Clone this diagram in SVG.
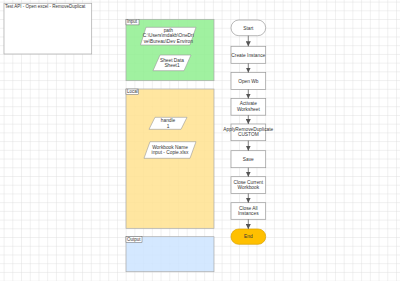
<svg xmlns="http://www.w3.org/2000/svg" width="400" height="281" viewBox="0 0 400 281">
<style>
text{font-family:"Liberation Sans",Arial,sans-serif;font-size:4.8px;fill:#333;text-anchor:middle}
.lbl{text-anchor:start;font-size:4.5px}
.node{fill:#fff;stroke:#999;stroke-width:0.7}
.para{fill:#fff;stroke:#999;stroke-width:0.6}
.lane{stroke:#aaa;stroke-width:0.7}
.tag{fill:#fff;stroke:#666;stroke-width:0.5}
.conn{stroke:#555;stroke-width:0.7;fill:none;marker-end:url(#arr)}
</style>
<defs>
<pattern id="grid" patternUnits="userSpaceOnUse" x="3.6" y="1.6" width="8.72" height="8.72">
<path d="M0 0H8.72M0 0V8.72" fill="none" stroke="#d9d9d9" stroke-width="0.8"/>
</pattern>
<marker id="arr" viewBox="0 0 10 10" refX="10" refY="5" markerWidth="5" markerHeight="5" orient="auto" markerUnits="userSpaceOnUse">
<path d="M0 0L10 5L0 10Z" fill="#555"/>
</marker>
<clipPath id="tclip"><rect x="4" y="3.3" width="87.7" height="50.7"/></clipPath>
</defs>
<rect width="400" height="281" fill="#fff"/>
<rect width="400" height="281" fill="url(#grid)"/>

<g id="title">
<rect x="4" y="3.3" width="87.7" height="50.7" fill="#fff" stroke="#aaa" stroke-width="0.7"/>
<text class="lbl" x="5" y="8.2" font-size="5.2" clip-path="url(#tclip)">Test API - Open excel - RemoveDuplicat</text>
</g>

<g id="lane-input">
<rect class="lane" x="126" y="19.3" width="88" height="61.4" fill="#8fee8f" fill-opacity="0.85"/>
<rect class="tag" x="126" y="19.3" width="13" height="5.6"/>
<text class="lbl" x="127" y="23.4">Input</text>
</g>
<g id="lane-local">
<rect class="lane" x="126" y="89" width="88" height="139.3" fill="#ffe28f" fill-opacity="0.85"/>
<rect class="tag" x="126" y="89" width="12.5" height="5.6"/>
<text class="lbl" x="127" y="93.1">Local</text>
</g>
<g id="lane-output">
<rect class="lane" x="126" y="236.7" width="88" height="35" fill="#cce4ff" fill-opacity="0.85"/>
<rect class="tag" x="126" y="236.7" width="16" height="5.6"/>
<text class="lbl" x="127" y="240.8">Output</text>
</g>

<g id="var-path">
<polygon class="para" points="146,27.3 196,27.3 190,45 140.5,45"/>
<text x="168.3" y="32.2">path</text>
<text x="168.3" y="37.4">C:\Users\mdakb\OneDri</text>
<text x="168.3" y="42.6">ve\Bureau\Dev Environ</text>
</g>
<g id="var-sheet">
<polygon class="para" points="160,55 191,55 184,70.7 153,70.7"/>
<text x="172" y="61.5">Sheet Data</text>
<text x="172" y="66.7">Sheet1</text>
</g>
<g id="var-handle">
<polygon class="para" points="155,117.3 187,117.3 181,129.3 149,129.3"/>
<text x="168" y="122.3">handle</text>
<text x="168" y="127.5">1</text>
</g>
<g id="var-workbook">
<polygon class="para" points="150,141.7 196,141.7 190,158.3 144,158.3"/>
<text x="170" y="148.5">Workbook Name</text>
<text x="170" y="153.7">input - Copie.xlsx</text>
</g>

<g id="n-start">
<rect class="node" x="231" y="20" width="34.7" height="15.7" rx="7.85"/>
<text x="248.3" y="29.5">Start</text>
</g>
<g id="n-create">
<rect class="node" x="231" y="46.3" width="34.7" height="17"/>
<text x="248.3" y="56.5">Create Instance</text>
</g>
<g id="n-open">
<rect class="node" x="231" y="72.5" width="34.7" height="17"/>
<text x="248.3" y="82.7">Open Wb</text>
</g>
<g id="n-activate">
<rect class="node" x="231" y="98.5" width="34.7" height="16.7"/>
<text x="248.3" y="105.4">Activate</text>
<text x="248.3" y="110.9">Worksheet</text>
</g>
<g id="n-apply">
<rect class="node" x="231" y="124" width="34.7" height="16.7"/>
<text x="248.3" y="130.9">ApplyRemoveDuplicate</text>
<text x="248.3" y="136.4">CUSTOM</text>
</g>
<g id="n-save">
<rect class="node" x="231" y="150.7" width="34.7" height="17"/>
<text x="248.3" y="160.9">Save</text>
</g>
<g id="n-closecur">
<rect class="node" x="231" y="176.7" width="34.7" height="16.8"/>
<text x="248.3" y="183.6">Close Current</text>
<text x="248.3" y="189.1">Workbook</text>
</g>
<g id="n-closeall">
<rect class="node" x="231" y="202.7" width="34.7" height="16.6"/>
<text x="248.3" y="209.6">Close All</text>
<text x="248.3" y="215.1">Instances</text>
</g>
<g id="n-end">
<rect x="231" y="229" width="34.7" height="15.3" rx="7.65" fill="#ffc000" stroke="#d9a200" stroke-width="0.7"/>
<text x="248.3" y="238.2">End</text>
</g>

<g id="connectors">
<path class="conn" d="M248.3 35.7V46.3"/>
<path class="conn" d="M248.3 63.3V72.5"/>
<path class="conn" d="M248.3 89.5V98.5"/>
<path class="conn" d="M248.3 115.2V124"/>
<path class="conn" d="M248.3 140.7V150.7"/>
<path class="conn" d="M248.3 167.7V176.7"/>
<path class="conn" d="M248.3 193.5V202.7"/>
<path class="conn" d="M248.3 219.3V229"/>
</g>
</svg>
